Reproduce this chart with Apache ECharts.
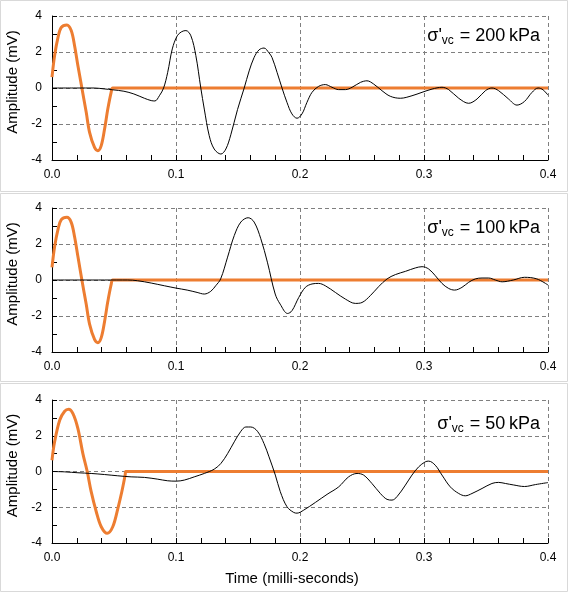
<!DOCTYPE html>
<html>
<head>
<meta charset="utf-8">
<script src="https://cdn.jsdelivr.net/npm/echarts@6/dist/echarts.min.js"></script>
<style>html,body{margin:0;padding:0;background:#fff}#c{width:572px;height:593px}</style>
</head>
<body>
<div id="c"></div>
<script>
// ---------- data ----------
const panelLabels = ['200', '100', '50'];
const xTickLabels = ['0.0', '0.1', '0.2', '0.3', '0.4'];

// Panel 1 (200 kPa) — received signal (black)
const t200 = [0, 0.02, 0.034, 0.042, 0.049, 0.058, 0.066, 0.0745, 0.08, 0.083, 0.0866, 0.09, 0.0933, 0.097, 0.101, 0.1046, 0.108, 0.112, 0.116, 0.12, 0.1228, 0.1268, 0.1308, 0.1362, 0.1402, 0.1442, 0.1496, 0.155, 0.159, 0.163, 0.167, 0.171, 0.175, 0.1774, 0.1815, 0.1855, 0.1895, 0.1935, 0.1976, 0.2016, 0.2056, 0.2097, 0.215, 0.2204, 0.2258, 0.2312, 0.2366, 0.242, 0.2487, 0.254, 0.2594, 0.2661, 0.2728, 0.2809, 0.2903, 0.2984, 0.3065, 0.3145, 0.3199, 0.328, 0.336, 0.3428, 0.3495, 0.3548, 0.3602, 0.368, 0.375, 0.381, 0.387, 0.392, 0.396, 0.4];
const a200 = [0, 0, 0, -0.05, -0.1, -0.18, -0.33, -0.57, -0.7, -0.72, -0.43, 0, 0.87, 2.17, 2.9, 3.13, 3.19, 2.9, 1.8, 0, -1.17, -2.65, -3.39, -3.67, -3.39, -2.6, -1.2, 0, 0.95, 1.7, 2.12, 2.22, 1.95, 1.7, 0.87, 0, -0.8, -1.44, -1.68, -1.44, -0.8, -0.24, 0.09, 0.19, 0.04, -0.09, -0.09, 0.04, 0.31, 0.4, 0.22, -0.15, -0.46, -0.57, -0.43, -0.24, -0.06, 0.04, -0.09, -0.57, -0.85, -0.61, -0.15, 0, -0.15, -0.6, -0.95, -0.75, -0.25, 0, -0.1, -0.4];
// Panel 1 — input signal (orange)
const tIn200 = [0, 0.0021, 0.0048, 0.0075, 0.012, 0.0155, 0.0182, 0.0209, 0.0241, 0.0276, 0.0303, 0.0343, 0.037, 0.0397, 0.0424, 0.045, 0.0477, 0.049, 0.055, 0.4];
const aIn200 = [0.6, 1.8, 2.8, 3.37, 3.5, 3.19, 2.35, 1.24, 0, -1.35, -2.46, -3.3, -3.48, -3.2, -2.28, -1.17, -0.24, 0, 0, 0];

// Panel 2 (100 kPa)
const t100 = [0, 0.061, 0.069, 0.08, 0.0906, 0.1, 0.109, 0.117, 0.1228, 0.128, 0.132, 0.136, 0.1416, 0.147, 0.1523, 0.1582, 0.163, 0.1684, 0.1737, 0.18, 0.184, 0.19, 0.1935, 0.199, 0.2043, 0.2097, 0.215, 0.2204, 0.2285, 0.2366, 0.2446, 0.25, 0.2567, 0.2634, 0.2702, 0.2769, 0.285, 0.293, 0.2984, 0.3038, 0.3091, 0.3145, 0.3199, 0.3247, 0.3306, 0.336, 0.3414, 0.3468, 0.3522, 0.3575, 0.363, 0.372, 0.381, 0.391, 0.4];
const a100 = [0, 0, -0.04, -0.17, -0.32, -0.45, -0.56, -0.69, -0.78, -0.63, -0.32, 0.06, 1.27, 2.47, 3.22, 3.46, 3.22, 2.29, 0.99, -0.78, -1.34, -1.86, -1.71, -0.97, -0.41, -0.22, -0.19, -0.32, -0.69, -1.06, -1.3, -1.25, -0.87, -0.37, 0.06, 0.3, 0.48, 0.67, 0.74, 0.61, 0.24, -0.19, -0.47, -0.56, -0.41, -0.13, 0.06, 0.11, 0.11, 0, -0.1, 0, 0.15, 0.06, -0.28];
const tIn100 = [0, 0.0021, 0.0048, 0.0075, 0.012, 0.0155, 0.0182, 0.0209, 0.0241, 0.0276, 0.0303, 0.0343, 0.037, 0.0397, 0.0424, 0.045, 0.0477, 0.049, 0.055, 0.4];
const aIn100 = [0.7, 1.85, 2.8, 3.35, 3.48, 3.2, 2.4, 1.3, 0, -1.35, -2.45, -3.3, -3.48, -3.2, -2.3, -1.2, -0.25, 0, 0, 0];

// Panel 3 (50 kPa)
const t50 = [0, 0.0102, 0.0209, 0.0316, 0.0424, 0.053, 0.0638, 0.0745, 0.0853, 0.0933, 0.1, 0.1067, 0.1147, 0.1228, 0.1308, 0.1362, 0.1416, 0.147, 0.1523, 0.1563, 0.1603, 0.1657, 0.171, 0.175, 0.1801, 0.1841, 0.1895, 0.1949, 0.1976, 0.203, 0.2124, 0.2218, 0.2312, 0.2392, 0.246, 0.2513, 0.258, 0.2648, 0.2702, 0.2742, 0.2782, 0.285, 0.2903, 0.2957, 0.301, 0.3038, 0.3091, 0.3145, 0.3212, 0.328, 0.3333, 0.3387, 0.3468, 0.3548, 0.3602, 0.3656, 0.372, 0.381, 0.39, 0.4];
const a50 = [0, -0.02, -0.07, -0.11, -0.17, -0.24, -0.3, -0.33, -0.43, -0.52, -0.54, -0.48, -0.3, -0.11, 0.13, 0.45, 1.0, 1.66, 2.25, 2.49, 2.49, 2.25, 1.56, 0.82, -0.2, -1.13, -1.97, -2.29, -2.33, -2.16, -1.73, -1.28, -0.86, -0.3, -0.11, -0.2, -0.67, -1.23, -1.56, -1.6, -1.41, -0.76, -0.2, 0.26, 0.54, 0.58, 0.35, -0.2, -0.86, -1.23, -1.36, -1.23, -0.95, -0.67, -0.61, -0.67, -0.75, -0.84, -0.73, -0.62];
const tIn50 = [0, 0.0021, 0.0062, 0.0102, 0.0134, 0.0169, 0.0209, 0.0249, 0.0284, 0.0316, 0.0357, 0.0397, 0.0445, 0.049, 0.0531, 0.0563, 0.059, 0.0595, 0.065, 0.4];
const aIn50 = [0.63, 1.66, 2.87, 3.37, 3.48, 3.24, 2.4, 1.0, 0, -1.13, -2.25, -3.09, -3.46, -3.09, -2.07, -1.13, -0.2, 0, 0, 0];

// ---------- chart ----------
const FONT = "'Liberation Sans', Arial, sans-serif";
const zip = (t, a) => t.map((x, i) => [x, a[i]]);
const grids = [
  {left: 52, top: 16, width: 496, height: 144, outerBoundsMode: 'none', containLabel: false},
  {left: 52, top: 208, width: 496, height: 144, outerBoundsMode: 'none', containLabel: false},
  {left: 52, top: 400, width: 496, height: 143, outerBoundsMode: 'none', containLabel: false}
];
const dash = {color: '#7f7f7f', width: 1, type: [4, 3]};

const xAxes = grids.map((g, i) => ({
  type: 'value', gridIndex: i, min: 0, max: 0.4, interval: 0.1,
  axisLine: {show: true, onZero: false, lineStyle: {color: '#000', width: 1}},
  axisTick: {show: true, inside: true, length: 5, lineStyle: {color: '#000'}},
  minorTick: {show: true, splitNumber: 5, length: 5, lineStyle: {color: '#000'}},
  axisLabel: {margin: 9, fontSize: 12, color: '#000', fontFamily: FONT,
    formatter: v => xTickLabels[Math.round(v * 10)]},
  splitLine: {show: true, lineStyle: dash},
  name: i === 2 ? 'Time (milli-seconds)' : '',
  nameLocation: 'middle', nameGap: 28,
  nameTextStyle: {fontSize: 15, color: '#000', fontFamily: FONT, padding: [0, 16, 0, 0]}
}));
const yAxes = grids.map((g, i) => ({
  type: 'value', gridIndex: i, min: -4, max: 4, interval: 2,
  axisLine: {show: true, onZero: false, lineStyle: {color: '#000', width: 1}},
  axisTick: {show: true, inside: true, length: 5, lineStyle: {color: '#000'}},
  minorTick: {show: true, splitNumber: 2, length: 5, lineStyle: {color: '#000'}},
  axisLabel: {margin: 10, fontSize: 12, color: '#000', fontFamily: FONT},
  splitLine: {show: true, lineStyle: dash},
  name: 'Amplitude (mV)', nameLocation: 'middle', nameGap: 27,
  nameTextStyle: {fontSize: 15, color: '#000', fontFamily: FONT, padding: [0, 0, 0, 12]}
}));

const inputs = [zip(tIn200, aIn200), zip(tIn100, aIn100), zip(tIn50, aIn50)];
const outputs = [zip(t200, a200), zip(t100, a100), zip(t50, a50)];
const series = [];
inputs.forEach((d, i) => series.push({
  type: 'line', xAxisIndex: i, yAxisIndex: i, data: d, smooth: 0.35, symbol: 'none',
  lineStyle: {color: '#ED7D31', width: 3}, z: 2, silent: true
}));
outputs.forEach((d, i) => series.push({
  type: 'line', xAxisIndex: i, yAxisIndex: i, data: d, smooth: 0.35, symbol: 'none',
  lineStyle: {color: '#000', width: 1}, z: 3, silent: true
}));

const labelYs = [37, 229, 425];
const graphic = [
  {type: 'rect', shape: {x: 0.5, y: 0.5, width: 567, height: 191}, style: {fill: 'none', stroke: '#d9d9d9', lineWidth: 1}, silent: true},
  {type: 'rect', shape: {x: 0.5, y: 193.5, width: 567, height: 188}, style: {fill: 'none', stroke: '#d9d9d9', lineWidth: 1}, silent: true},
  {type: 'rect', shape: {x: 0.5, y: 383.5, width: 567, height: 208}, style: {fill: 'none', stroke: '#d9d9d9', lineWidth: 1}, silent: true}
].concat(panelLabels.map((p, i) => ({
  type: 'text', right: 32, top: labelYs[i] - 12, z: 10,
  style: {
    text: '{m|σ\'}{s|vc}{m| = ' + p + '\u2009kPa}',
    fill: '#000', font: '18px ' + FONT,
    rich: {
      m: {fontSize: 18, fontFamily: FONT, fill: '#000', lineHeight: 24},
      s: {fontSize: 12, fontFamily: FONT, fill: '#000', lineHeight: 24, padding: [10, 1, 0, 0]}
    }
  }
})));

const chart = echarts.init(document.getElementById('c'), null, {renderer: 'canvas'});
chart.setOption({
  backgroundColor: '#fff',
  animation: false,
  grid: grids,
  xAxis: xAxes,
  yAxis: yAxes,
  series: series,
  graphic: graphic
});
</script>
</body>
</html>
